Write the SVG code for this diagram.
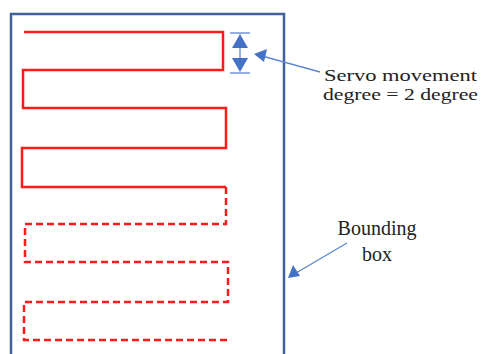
<svg xmlns="http://www.w3.org/2000/svg" width="481" height="354" viewBox="0 0 481 354">
<style>
.box{fill:none;stroke:#41619c;stroke-width:2.5}
.red{fill:none;stroke:#ff1a1a;stroke-width:2.5;stroke-linejoin:miter}
.dash{stroke-dasharray:7,4}
.ptr{stroke:#5b86d0;stroke-width:1.3;fill:none}
.tri{fill:#4472c4}
.lbl{font-family:"Liberation Serif",serif;font-size:20px;fill:#222}
.sm{font-size:17px}
</style>
<g id="bounding-box"><rect class="box" x="11" y="14" width="273" height="360"/></g>
<g id="scan-path">
<polyline class="red" points="24,32 223,32 223,70 23,70 23,108 226,108 226,148 22,148 22,187 226,187"/>
<polyline class="red dash" points="226,187 226,224 25,224 25,262 228,262 228,302 24,302 24,340 227,340"/>
</g>
<g id="dimension">
<line class="ptr" x1="230" y1="33" x2="250" y2="33"/>
<line class="ptr" x1="230" y1="73" x2="250" y2="73"/>
<line class="ptr" x1="240" y1="40" x2="240" y2="66"/>
<polygon class="tri" points="240,34 232,48 248,48"/>
<polygon class="tri" points="232,58 248,58 240,72"/>
</g>
<g id="connectors">
<line class="ptr" x1="320" y1="72" x2="262" y2="56"/>
<polygon class="tri" points="254,54 267,49 264,62"/>
<line class="ptr" x1="347" y1="243" x2="296" y2="273"/>
<polygon class="tri" points="288,278 293,265 300,276"/>
</g>
<g id="label-servo">
<text class="lbl sm" x="324" y="81" textLength="153" lengthAdjust="spacingAndGlyphs">Servo movement</text>
<text class="lbl sm" x="323" y="100" textLength="155" lengthAdjust="spacingAndGlyphs">degree = 2 degree</text>
</g>
<g id="label-box">
<text class="lbl" x="377" y="235" text-anchor="middle">Bounding</text>
<text class="lbl" x="377" y="261" text-anchor="middle">box</text>
</g>
</svg>
